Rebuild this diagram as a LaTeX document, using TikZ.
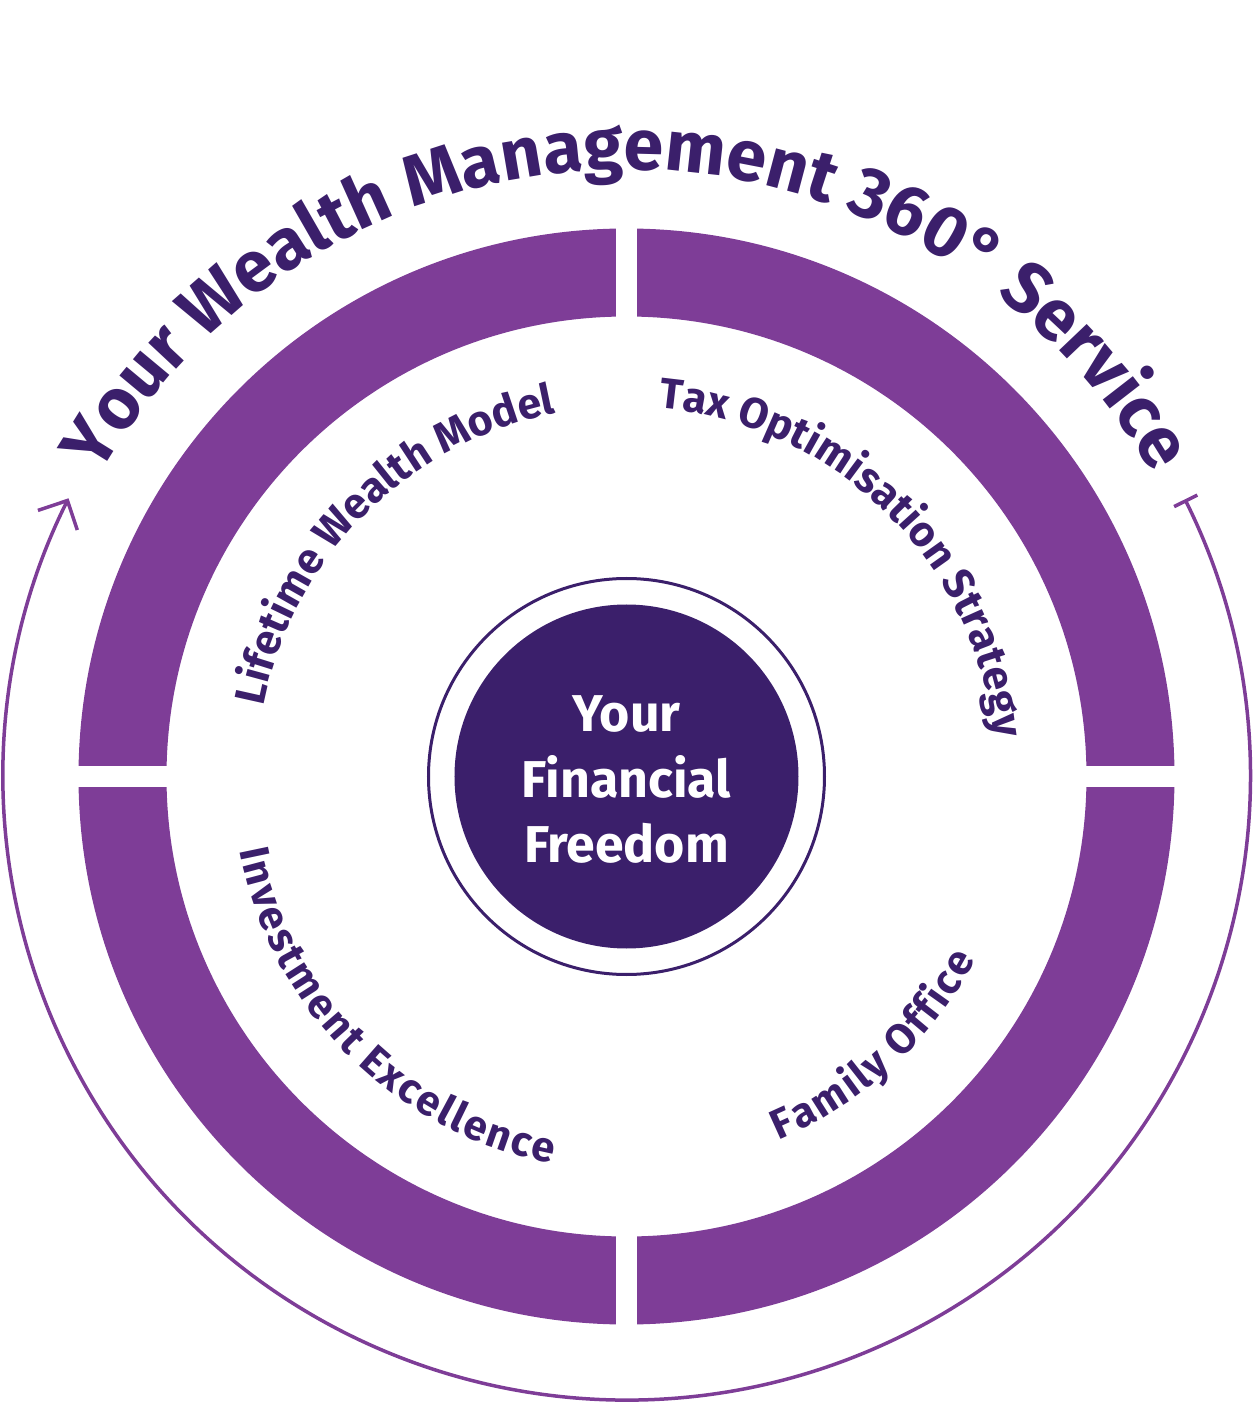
\documentclass[tikz,border=0pt]{standalone}
\usepackage{fontspec}
\setmainfont{Fira Sans}
\usetikzlibrary{decorations.text, arrows.meta}
\definecolor{ringc}{RGB}{126,61,151}
\definecolor{darkc}{RGB}{59,31,107}
\newcommand\titlefnt{\fontsize{72}{80}\selectfont\bfseries}
\newcommand\labelfnt{\fontsize{43}{50}\selectfont\bfseries}
\newcommand\labelfntb{\fontsize{42}{50}\selectfont\bfseries}
\newcommand\lk{\kern2.2bp}
\newcommand\corefnt{\fontsize{52}{66}\selectfont\bfseries}
\tikzset{
  curvedtext/.style={decorate, decoration={text along path, text align=center, text color=darkc}},
  segment/.style={fill=ringc, even odd rule},
  loopline/.style={draw=ringc, line width=3.5bp},
}
\begin{document}
\begin{tikzpicture}
\useasboundingbox (-626.5bp,-626.5bp) rectangle (626.5bp,776.5bp);
% ring segments
\foreach \sx/\sy in {1/1,-1/1,-1/-1,1/-1}{
  \begin{scope}
    \clip (\sx*10.5bp,\sy*10.5bp) rectangle (\sx*600bp,\sy*600bp);
    \fill[segment] (0,0) circle[radius=548bp] (0,0) circle[radius=460bp];
  \end{scope}
}
% centre
\node[circle, draw=darkc, line width=3bp, minimum size=396bp, inner sep=0pt] (halo) at (0,0) {};
\node[circle, fill=darkc, minimum size=344bp, inner sep=0pt] (core) at (0,0) {};
\node[align=center, text=white, font=\corefnt] (coretext) at (0,-3bp) {Your\\Financial\\Freedom};
% outer loop arrow
\draw[loopline, {Bar[width=26bp]}-{Straight Barb[length=22bp,width=44bp]}]
  (26.4:623.5bp) arc[start angle=26.4, end angle=-206.5, radius=623.5bp];
% title
\path[curvedtext, decoration={text={|\titlefnt|Your Wealth Management 360° Service}}]
  (180:607bp) arc[start angle=180, end angle=0, radius=607bp];
% labels
\path[curvedtext, decoration={text={|\labelfnt|Lifetime Wealth Model}}]
  (180:370bp) arc[start angle=180, end angle=90, radius=370bp];
\path[curvedtext, decoration={text={|\labelfnt|Tax Optimisation Strategy}}]
  (91:370bp) arc[start angle=91, end angle=0, radius=370bp];
\path[curvedtext, decoration={text={|\labelfntb|{I\lk}{n\lk}{v\lk}{e\lk}{s\lk}{t\lk}{m\lk}{e\lk}{n\lk}{t\lk} {E\lk}{x\lk}{c\lk}{e\lk}{l\lk}{l\lk}{e\lk}{n\lk}{c\lk}{e}}}]
  (180:394bp) arc[start angle=180, end angle=270, radius=394bp];
\path[curvedtext, decoration={text={|\labelfntb|{F\lk}{a\lk}{m\lk}{i\lk}{l\lk}{y\lk} {O\lk}{f\lk}{f\lk}{i\lk}{c\lk}{e}}}]
  (267.5:394bp) arc[start angle=267.5, end angle=357.5, radius=394bp];
\end{tikzpicture}
\end{document}
